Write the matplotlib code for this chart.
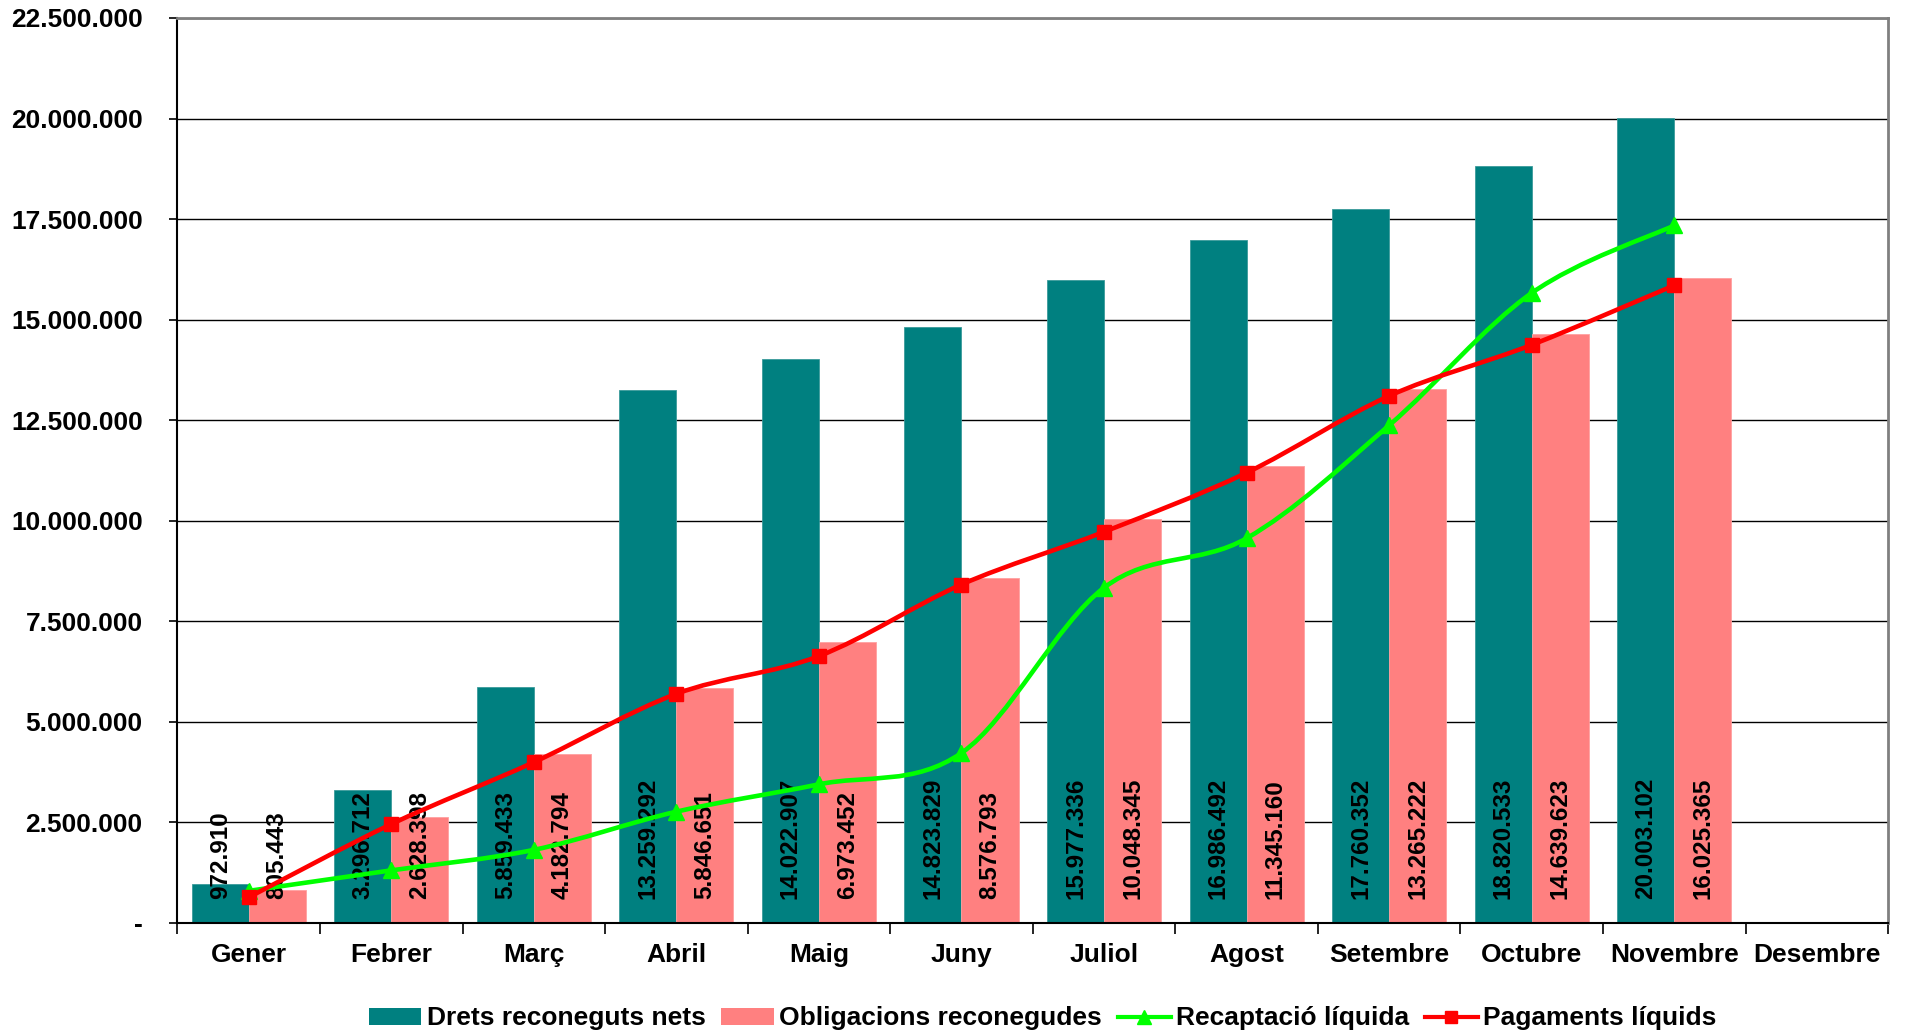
import matplotlib.pyplot as plt
from matplotlib.path import Path
from matplotlib.patches import PathPatch, Patch
from matplotlib.lines import Line2D
from matplotlib.ticker import FuncFormatter, FixedLocator

plt.rcParams['font.family'] = ['Liberation Sans', 'DejaVu Sans']
plt.rcParams['font.weight'] = 'bold'

# Data
mesos = ['Gener', 'Febrer', 'Març', 'Abril', 'Maig', 'Juny', 'Juliol',
         'Agost', 'Setembre', 'Octubre', 'Novembre', 'Desembre']
drets = [972910, 3296712, 5859433, 13259292, 14022907, 14823829,
         15977336, 16986492, 17760352, 18820533, 20003102]
obligacions = [805443, 2628398, 4182794, 5846651, 6973452, 8576793,
               10048345, 11345160, 13265222, 14639623, 16025365]
recaptacio = [790000, 1300000, 1810000, 2760000, 3440000, 4220000,
              8330000, 9560000, 12370000, 15660000, 17340000]
pagaments = [630000, 2450000, 3990000, 5690000, 6630000, 8410000,
             9720000, 11190000, 13100000, 14370000, 15850000]

TEAL = '#008080'
PINK = '#FF8080'
GREEN = '#00FF00'
RED = '#FF0000'


def fmt(v):
    if v == 0:
        return '-'
    return f'{v:,.0f}'.replace(',', '.')


def smooth_path(xs, ys):
    # Excel style smoothed line: cubic bezier with catmull-rom control points
    pts = list(zip(xs, ys))
    verts = [pts[0]]
    codes = [Path.MOVETO]
    n = len(pts)
    for i in range(n - 1):
        p0 = pts[i - 1] if i > 0 else pts[i]
        p1 = pts[i]
        p2 = pts[i + 1]
        p3 = pts[i + 2] if i + 2 < n else pts[i + 1]
        c1 = (p1[0] + (p2[0] - p0[0]) / 6, p1[1] + (p2[1] - p0[1]) / 6)
        c2 = (p2[0] - (p3[0] - p1[0]) / 6, p2[1] - (p3[1] - p1[1]) / 6)
        verts += [c1, c2, p2]
        codes += [Path.CURVE4] * 3
    return Path(verts, codes)


fig = plt.figure(figsize=(19.06, 10.34), dpi=100)
ax = fig.add_axes([0.0931, 0.1077, 0.8975, 0.8749])

x = list(range(len(drets)))
xt = [i - 0.2 for i in x]
xo = [i + 0.2 for i in x]

ax.bar(xt, drets, width=0.4, color=TEAL, edgecolor='#3a9a9a', linewidth=0.6, zorder=2)
ax.bar(xo, obligacions, width=0.4, color=PINK, edgecolor='#ffa0a0', linewidth=0.6, zorder=2)

for xi, v in zip(xt, drets):
    ax.annotate(fmt(v), (xi, 0), xytext=(0, 17), textcoords='offset points',
                rotation=90, ha='center', va='bottom', fontsize=17.5,
                fontweight='bold', color='black', zorder=3)
for xi, v in zip(xo, obligacions):
    ax.annotate(fmt(v), (xi, 0), xytext=(0, 17), textcoords='offset points',
                rotation=90, ha='center', va='bottom', fontsize=17.5,
                fontweight='bold', color='black', zorder=3)

ax.add_patch(PathPatch(smooth_path(x, recaptacio), fill=False, edgecolor=GREEN,
                       linewidth=3.3, zorder=4, capstyle='round', joinstyle='round'))
ax.add_patch(PathPatch(smooth_path(x, pagaments), fill=False, edgecolor=RED,
                       linewidth=3.3, zorder=4, capstyle='round', joinstyle='round'))
ax.plot(x, recaptacio, linestyle='none', marker='^', markersize=11,
        color=GREEN, zorder=5, clip_on=False)
ax.plot(x, pagaments, linestyle='none', marker='s', markersize=10,
        color=RED, zorder=5, clip_on=False)

ax.set_xlim(-0.5, 11.5)
ax.set_ylim(0, 22500000)
ax.set_yticks([i * 2500000 for i in range(10)])
ax.yaxis.set_major_formatter(FuncFormatter(lambda v, p: fmt(v)))
ax.tick_params(axis='y', labelsize=19, length=6, width=1.2, pad=19)

ax.xaxis.set_major_locator(FixedLocator([i - 0.5 for i in range(13)]))
ax.xaxis.set_minor_locator(FixedLocator(list(range(12))))
ax.set_xticklabels([])
ax.set_xticklabels(mesos, minor=True)
ax.tick_params(axis='x', which='major', length=8, width=1.2)
ax.tick_params(axis='x', which='minor', length=0, labelsize=19, pad=15)

ax.grid(axis='y', color='black', linewidth=1.0, zorder=0)
ax.set_axisbelow(True)
for s in ['left', 'bottom']:
    ax.spines[s].set_color('black')
    ax.spines[s].set_linewidth(1.5)
for s in ['top', 'right']:
    ax.spines[s].set_color('#808080')
    ax.spines[s].set_linewidth(2)

handles = [
    Patch(facecolor=TEAL, label='Drets reconeguts nets'),
    Patch(facecolor=PINK, label='Obligacions reconegudes'),
    Line2D([], [], color=GREEN, linewidth=3, marker='^', markersize=10,
           label='Recaptació líquida'),
    Line2D([], [], color=RED, linewidth=3, marker='s', markersize=9,
           label='Pagaments líquids'),
]
fig.legend(handles=handles, loc='center', bbox_to_anchor=(0.547, 0.015),
           ncol=4, frameon=False, fontsize=19, handlelength=2.0,
           handletextpad=0.2, columnspacing=0.6, handleheight=0.6)

fig.savefig('out.png', dpi=100)
